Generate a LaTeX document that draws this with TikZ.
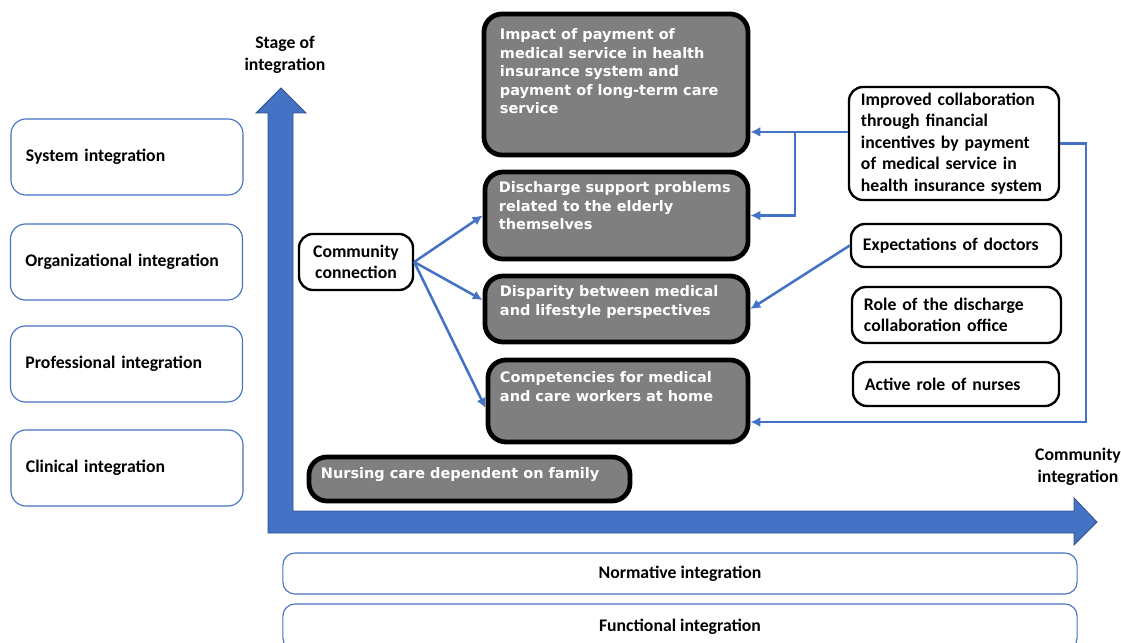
\documentclass[tikz,border=0pt]{standalone}
\usepackage{fontspec}
\setmainfont{Carlito}
\newfontfamily\boxfont{DejaVu Sans}
\usetikzlibrary{arrows.meta}
\definecolor{linkblue}{HTML}{4472C4}
\definecolor{axisedge}{HTML}{2F528F}
\definecolor{boxgray}{HTML}{7F7F7F}
\newcommand{\LinkTip}{Latex[length=7pt,width=7pt]}
\newcommand{\grayText}[3]{\parbox[c][#2][t]{#1}{\raggedright #3}}

\begin{document}
\begin{tikzpicture}[x=0.025cm,y=-0.025cm,
        font=\bfseries\fontsize{12.6}{15.4}\selectfont,
        levelbox/.style={draw=linkblue, line width=0.8pt, rounded corners=0.375cm,
            align=left, text width=5.05cm, inner xsep=0.375cm, minimum height=1.9cm},
        typebox/.style={draw=linkblue, line width=0.8pt, rounded corners=0.3cm,
            minimum width=19.85cm},
        axislabel/.style={align=center},
        graybox/.style={fill=boxgray, draw=black, line width=3.4pt, rounded corners=0.45cm,
            text=white, font=\boxfont\bfseries\fontsize{10.3}{13.1}\selectfont},
        factorbox/.style={draw=black, line width=1.7pt, rounded corners=0.35cm,
            align=left, inner xsep=0.3cm},
        link/.style={draw=linkblue, line width=1.8pt, -{\LinkTip}}]
    \useasboundingbox (0,0) rectangle (1121,643);

    % axes
    \filldraw[fill=linkblue, draw=axisedge, line width=0.6pt]
        (268,533) -- (268,113) -- (256,113) -- (281,88) -- (306,113) -- (293,113)
        -- (293,511) -- (1074,511) -- (1074,498) -- (1097,522) -- (1074,545)
        -- (1074,533) -- cycle;
    \node[axislabel] (stage) at (285,55) {Stage of\\integration};
    \node[axislabel] (commint) at (1078,467) {Community\\integration};

    % stages of integration
    \node[levelbox] (system) at (127,157) {System integration};
    \node[levelbox] (organization) at (126.5,262) {Organizational integration};
    \node[levelbox] (professional) at (126.5,364) {Professional integration};
    \node[levelbox] (clinical) at (127,468) {Clinical integration};

    \node[typebox, minimum height=1.025cm] (normative) at (680,573.5) {Normative integration};
    \node[typebox, minimum height=1.15cm] (functional) at (680,627) {Functional integration};

    % problems
    \node[graybox, inner xsep=0.4cm, inner ysep=0.375cm] (impact) at (616,84.5)
        {\grayText{5.8cm}{2.775cm}{Impact of payment of\\medical service in health\\insurance system and\\payment of long-term care\\service}};
    \node[graybox, inner xsep=0.35cm, inner ysep=0.25cm] (discharge) at (616.5,215.5)
        {\grayText{5.875cm}{1.675cm}{Discharge support problems\\related to the elderly\\themselves}};
    \node[graybox, inner xsep=0.375cm, inner ysep=0.25cm] (disparity) at (616.5,309)
        {\grayText{5.825cm}{1.15cm}{Disparity between medical\\and lifestyle perspectives}};
    \node[graybox, inner xsep=0.3cm, inner ysep=0.3cm] (competency) at (618,401)
        {\grayText{5.9cm}{1.45cm}{Competencies for medical\\and care workers at home}};
    \node[graybox, inner xsep=0.3cm, inner ysep=0.26cm] (nursing) at (469.5,479)
        {\grayText{7.425cm}{0.58cm}{Nursing care dependent on family}};

    % factors
    \node[factorbox, align=center, minimum width=2.85cm, minimum height=1.4cm] (comm)
        at (356,262) {Community\\connection};
    \node[factorbox, text width=4.65cm, minimum height=2.825cm] (improved) at (954,143.5)
        {Improved collaboration\\through financial\\incentives by payment\\of medical service in\\health insurance system};
    \node[factorbox, text width=4.65cm, minimum height=1.075cm] (expect) at (956,245.5)
        {Expectations of doctors};
    \node[factorbox, text width=4.625cm, minimum height=1.4cm] (role) at (956.5,315)
        {Role of the discharge\\collaboration office};
    \node[factorbox, text width=4.55cm, minimum height=1.1cm] (active) at (956,384)
        {Active role of nurses};

    % links
    \draw[link] (comm.east) -- (discharge.west);
    \draw[link] (comm.east) -- ([yshift=0.225cm]disparity.west);
    \draw[link] (comm.east) -- ([yshift=-0.175cm]competency.west);

    \coordinate (fin) at ([yshift=0.29cm]improved.west);
    \coordinate (fork) at (795,132);
    \draw[link] (fin) -- (fin -| impact.east);
    \draw[link] (fork) |- (discharge.east);
    \draw[link] (expect.west) -- (disparity.east);
    \draw[link] (improved.east) -- ++(26,0) |- ([yshift=-0.525cm]competency.east);
\end{tikzpicture}
\end{document}
